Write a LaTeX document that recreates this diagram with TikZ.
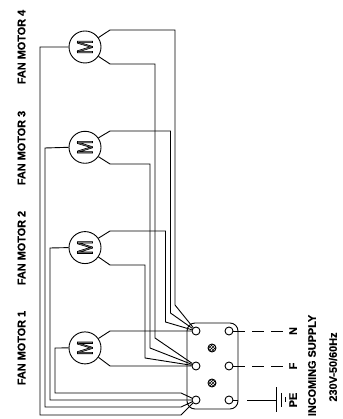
\documentclass[tikz,border=0pt]{standalone}
\usepackage{fontspec}
\setmainfont[BoldFeatures={FakeBold=0.4}]{Liberation Sans}
\usetikzlibrary{patterns}
\tikzstyle{motor} = [circle, draw, minimum size=32pt, inner sep=0pt]
\tikzstyle{term} = [circle, draw, fill=white, minimum size=8pt, inner sep=0pt]
\tikzstyle{screw} = [circle, draw, pattern=crosshatch, minimum size=8pt, inner sep=0pt]
\tikzstyle{lbl} = [rotate=90, inner sep=1pt, font=\bfseries\fontsize{10.9pt}{12pt}\selectfont]
\newcommand{\motorM}{\rotatebox{90}{\scalebox{0.8}[1]{\special{pdf:code q 2 Tr 0.7 w 0.55 g}\fontsize{22pt}{22pt}\selectfont M\special{pdf:code Q}}}}

\begin{document}
\begin{tikzpicture}[x=1pt,y=1pt,line width=0.9pt,node distance=100.3pt]
  \useasboundingbox (0,0) rectangle (342,419);
  \node[motor] (m4) at (85,372) {\motorM};
  \node[motor] (m3) [below of=m4] {\motorM};
  \node[motor] (m2) [below of=m3] {\motorM};
  \node[motor] (m1) [below of=m2] {\motorM};

  \node[lbl] (l4) at (21.5,372) {FAN MOTOR 4};
  \node[lbl] (l3) at (21.5,271) {FAN MOTOR 3};
  \node[lbl] (l2) at (21.5,171) {FAN MOTOR 2};
  \node[lbl] (l1) at (21.5,71) {FAN MOTOR 1};

  \draw[rounded corners=8pt] (187,10) rectangle (238,96);
  \node[term] (tn) at (196,88) {};
  \node[term] (tf) at (196,53) {};
  \node[term] (tp) at (196,19) {};
  \node[term] (rn) at (229,88) {};
  \node[term] (rf) at (229,53) {};
  \node[term] (rp) at (229,19) {};
  \node[screw] (s1) at (212,71) {};
  \node[screw] (s2) at (212,36) {};

  \node[lbl] (n) at (293,88) {N};
  \node[lbl] (f) at (293,53) {F};
  \node[lbl] (pe) at (293,19) {PE};
  \node[lbl] (sup) at (312,53.5) {INCOMING SUPPLY};
  \node[lbl] (volt) at (333,52) {230V-50/60Hz};
  \coordinate (gnd) at (276.5,19);

  % motor wires, right side
  \draw (m4.35) -- (110,389) -- (175,389) -- (175,114) -- (tn);
  \draw (m3.35) -- (110,288) -- (170.5,288) -- (170.5,106) -- (tn);
  \draw (m2.35) -- (110,188) -- (165.5,188) -- (165.5,97) -- (tn);
  \draw (m1.35) -- (110,88) -- (tn);
  \draw (m4.-35) -- (110,355) -- (155,355) -- (155,81) -- (tf);
  \draw (m3.-35) -- (110,255) -- (150,255) -- (150,71) -- (tf);
  \draw (m2.-35) -- (110,154) -- (145,154) -- (145,61) -- (tf);
  \draw (m1.-35) -- (110,53) -- (tf);

  % motor wires, left side
  \draw (m4.west) -- (40,372) -- (40,4) -- (181,4) -- (tp);
  \draw (m3.west) -- (45,271) -- (45,12) -- (181,12) -- (tp);
  \draw (m2.west) -- (50,171) -- (50,19) -- (tp);
  \draw (m1.west) -- (55,71) -- (55,26) -- (181,26) -- (tp);

  % supply
  \draw[dash pattern=on 12pt off 7pt] (rn) -- (n);
  \draw[dash pattern=on 12pt off 7pt] (rf) -- (f);
  \draw[dash pattern=on 5pt off 9pt on 40pt off 1pt] (rp) -- (gnd);
  \draw ([yshift=12.5pt]gnd) -- ([yshift=-12.5pt]gnd);
  \draw ([xshift=5pt,yshift=7pt]gnd) -- ([xshift=5pt,yshift=-7pt]gnd);
  \draw ([xshift=9pt,yshift=2.5pt]gnd) -- ([xshift=9pt,yshift=-2.5pt]gnd);
\end{tikzpicture}
\end{document}
